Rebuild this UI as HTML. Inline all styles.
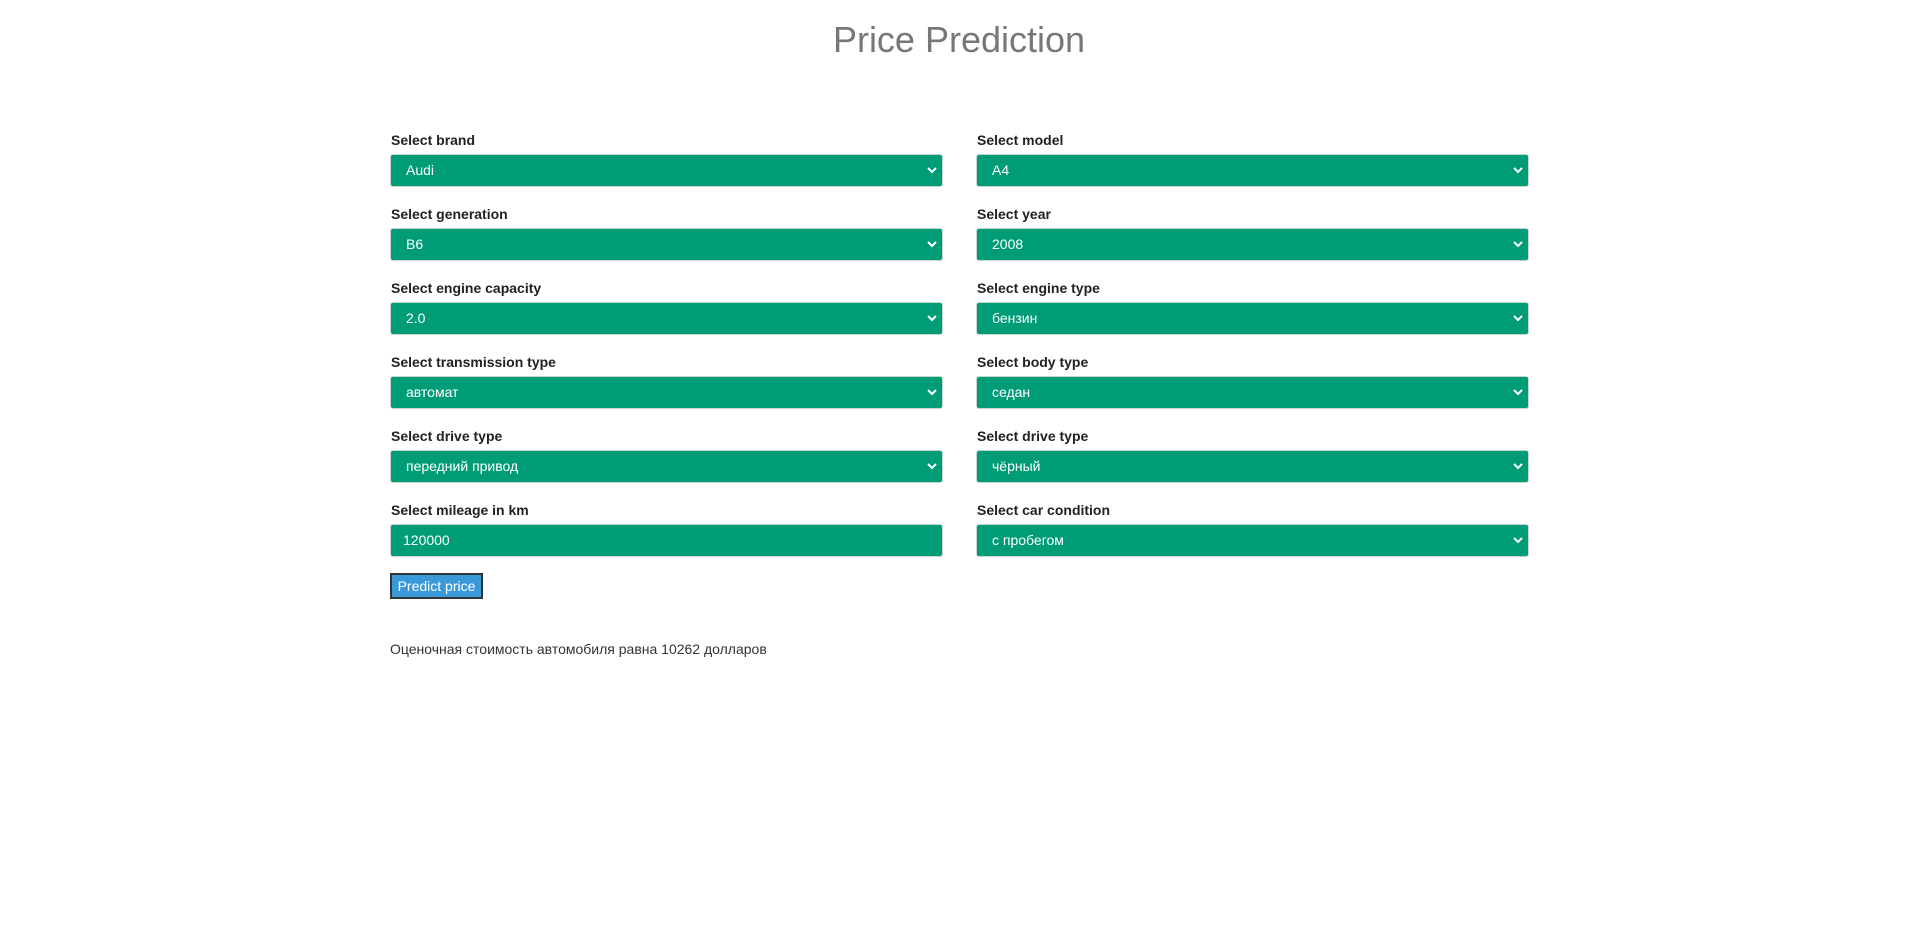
<!DOCTYPE html>
<html><head><meta charset="utf-8"><style>
body{margin:0;width:1920px;height:937px;background:#fff;font-family:"Liberation Sans",Arial,sans-serif;position:relative;overflow:hidden}
h1{position:absolute;top:19px;left:0;width:1918px;text-align:center;margin:0;font-weight:normal;font-size:36px;color:#777}
.f{position:absolute;width:553px}
.f label{position:absolute;top:-22px;left:1px;font-weight:bold;font-size:14px;color:#222;white-space:nowrap}
.s{height:31px;background:#009c77;border:1px solid #c9d6d0;border-radius:3px;color:#fff;font-size:14px;line-height:31px;padding-left:15px;box-sizing:content-box;width:536px;position:relative}
.s svg{position:absolute;right:5px;top:11px}
.in{padding-left:12px;width:539px}
button{position:absolute;left:390px;top:573px;width:93px;height:26px;background:#3a9ad9;color:#fff;border:2px solid #333;font:14px "Liberation Sans",sans-serif;padding:0}
.r{position:absolute;left:390px;top:641px;font-size:14px;color:#333}
</style></head><body>
<h1>Price Prediction</h1>
<div id="c"></div>
<button>Predict price</button>
<div class="r">Оценочная стоимость автомобиля равна 10262 долларов</div>
<script>
const fields=[
["Select brand","Audi","brand-select"],["Select model","A4","model-select"],
["Select generation","B6","generation-select"],["Select year","2008","year-select"],
["Select engine capacity","2.0","engine-capacity-select"],["Select engine type","бензин","engine-type-select"],
["Select transmission type","автомат","transmission-select"],["Select body type","седан","body-type-select"],
["Select drive type","передний привод","drive-type-select"],["Select drive type","чёрный","color-select"],
["Select mileage in km","120000","mileage-input"],["Select car condition","с пробегом","condition-select"]];
const c=document.getElementById('c');
fields.forEach((f,i)=>{
const d=document.createElement('div');d.className='f';


d.style.left=(i%2?976:390)+'px';d.style.top=(154+Math.floor(i/2)*74)+'px';
const isIn=f[2]==='mileage-input';
d.innerHTML='<label>'+f[0]+'</label><div class="s'+(isIn?' in':'')+'">'+f[1]+(isIn?'':'<svg width="10" height="8"><path d="M1 2 L5 6 L9 2" stroke="#fff" stroke-width="2" fill="none"/></svg>')+'</div>';
c.appendChild(d);
});
</script>
</body></html>
